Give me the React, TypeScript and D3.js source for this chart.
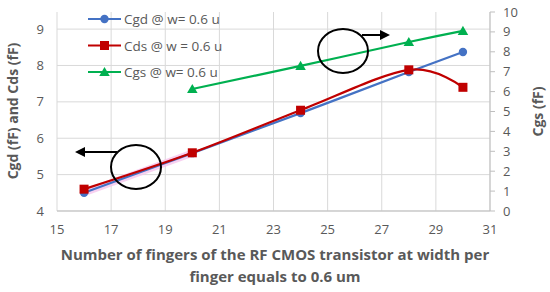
import React from 'react';
import * as d3 from 'd3';

const fingers = [16, 20, 24, 28, 30];
const cgd = [4.5, 5.59, 6.69, 7.82, 8.37];
const cds = [4.6, 5.6, 6.77, 7.88, 7.4];
const cgsFingers = [20, 24, 28, 30];
const cgs = [6.13, 7.29, 8.49, 9.05];
const xTicks = [15, 17, 19, 21, 23, 25, 27, 29, 31];
const leftTicks = [4, 5, 6, 7, 8, 9];
const rightTicks = [0, 1, 2, 3, 4, 5, 6, 7, 8, 9, 10];
const legendNames = ['Cgd @ w= 0.6 u', 'Cds @ w = 0.6 u', 'Cgs @ w= 0.6 u'];

const W = 550;
const H = 292;
const FONT = "'Open Sans', 'Liberation Sans', sans-serif";
const GREY = '#595959';
const BLUE = '#4472C4';
const RED = '#C00000';
const GREEN = '#00B050';

const x = d3.scaleLinear().domain([15, 31]).range([57, 490]);
const yL = d3.scaleLinear().domain([4, 9.47]).range([211, 12]);
const yR = d3.scaleLinear().domain([0, 10]).range([211, 12]);

const smooth = d3.curveCardinal.tension(0);

const Marker = ({ kind, cx, cy }: { kind: string; cx: number; cy: number }) => {
  if (kind === 'circle') return <circle cx={cx} cy={cy} r={4.2} fill={BLUE} />;
  if (kind === 'square')
    return <rect x={cx - 4.5} y={cy - 4.5} width={9} height={9} fill={RED} />;
  return <path d={d3.symbol(d3.symbolTriangle, 48)()!} transform={`translate(${cx},${cy + 1})`} fill={GREEN} />;
};

export default function App() {
  const lineL = d3
    .line<number>()
    .x((_, i) => x(fingers[i]))
    .y((d) => yL(d))
    .curve(smooth);
  const lineR = d3
    .line<number>()
    .x((_, i) => x(cgsFingers[i]))
    .y((d) => yR(d))
    .curve(smooth);

  const colors = [BLUE, RED, GREEN];
  const kinds = ['circle', 'square', 'triangle'];

  return (
    <svg width={W} height={H} style={{ position: 'absolute', left: 0, top: 0, background: '#fff' }} fontFamily={FONT}>
      <defs>
        <marker id="arr" viewBox="0 0 10 10" refX="8" refY="5" markerWidth="5" markerHeight="5" orient="auto">
          <path d="M0,0 L10,5 L0,10 z" fill="#000" />
        </marker>
      </defs>
      {/* grid */}
      {xTicks.map((t) => (
        <line key={'vx' + t} x1={x(t)} x2={x(t)} y1={12} y2={211} stroke="#d9d9d9" strokeWidth={1} />
      ))}
      {leftTicks.map((t) => (
        <line key={'hy' + t} x1={x(15)} x2={x(31)} y1={yL(t)} y2={yL(t)} stroke="#d9d9d9" strokeWidth={1} />
      ))}
      <line x1={x(15)} x2={x(31)} y1={211} y2={211} stroke="#bfbfbf" />
      <line x1={x(31)} x2={x(31)} y1={12} y2={211} stroke="#bfbfbf" />
      {rightTicks.map((t) => (
        <line key={'rt' + t} x1={x(31)} x2={x(31) + 5} y1={yR(t)} y2={yR(t)} stroke="#bfbfbf" />
      ))}

      {/* tick labels */}
      {xTicks.map((t) => (
        <text key={'xl' + t} x={x(t)} y={234} textAnchor="middle" fontSize={13} fill={GREY}>
          {t}
        </text>
      ))}
      {leftTicks.map((t) => (
        <text key={'ll' + t} x={44} y={yL(t) + 4.5} textAnchor="end" fontSize={13} fill={GREY}>
          {t}
        </text>
      ))}
      {rightTicks.map((t) => (
        <text key={'rl' + t} x={503} y={yR(t) + 4.5} textAnchor="start" fontSize={13} fill={GREY}>
          {t}
        </text>
      ))}

      {/* axis titles */}
      <text transform={`translate(18,111) rotate(-90)`} textAnchor="middle" fontSize={14} fontWeight="bold" fill={GREY}>
        Cgd (fF) and Cds (fF)
      </text>
      <text transform={`translate(543,${yR(5)}) rotate(-90)`} textAnchor="middle" fontSize={14} fontWeight="bold" fill={GREY}>
        Cgs (fF)
      </text>
      <text x={275} y={260} textAnchor="middle" fontSize={15} fontWeight="bold" fill={GREY}>
        Number of fingers of the RF CMOS transistor at width per
      </text>
      <text x={275} y={282} textAnchor="middle" fontSize={15} fontWeight="bold" fill={GREY}>
        finger equals to 0.6 um
      </text>

      {/* series */}
      <path d={lineL(cgd.slice(0, 2))!} fill="none" stroke="#f6c6ee" strokeWidth={7} opacity={0.8} />
      <path d={lineL(cgd)!} fill="none" stroke={BLUE} strokeWidth={2.2} />
      <path d={lineL(cds)!} fill="none" stroke={RED} strokeWidth={2.2} />
      <path d={lineR(cgs)!} fill="none" stroke={GREEN} strokeWidth={2.2} />
      {cgd.map((v, i) => (
        <Marker key={'m1' + i} kind="circle" cx={x(fingers[i])} cy={yL(v)} />
      ))}
      {cds.map((v, i) => (
        <Marker key={'m2' + i} kind="square" cx={x(fingers[i])} cy={yL(v)} />
      ))}
      {cgs.map((v, i) => (
        <Marker key={'m3' + i} kind="triangle" cx={x(cgsFingers[i])} cy={yR(v)} />
      ))}

      {/* legend */}
      {legendNames.map((n, i) => {
        const ly = 19 + i * 26.5;
        return (
          <g key={n}>
            <line x1={88} x2={121} y1={ly} y2={ly} stroke={colors[i]} strokeWidth={2.2} />
            <Marker kind={kinds[i]} cx={104.5} cy={ly} />
            <text x={124} y={ly + 5} fontSize={13.5} fill={GREY}>
              {n}
            </text>
          </g>
        );
      })}

      {/* annotations */}
      <ellipse cx={136} cy={167} rx={25} ry={22} fill="none" stroke="#000" strokeWidth={2} />
      <line x1={117} y1={152} x2={77} y2={152} stroke="#000" strokeWidth={2} markerEnd="url(#arr)" />
      <ellipse cx={343} cy={51} rx={25} ry={22} fill="none" stroke="#000" strokeWidth={2} />
      <line x1={362} y1={35} x2={388} y2={35} stroke="#000" strokeWidth={2} markerEnd="url(#arr)" />
    </svg>
  );
}
